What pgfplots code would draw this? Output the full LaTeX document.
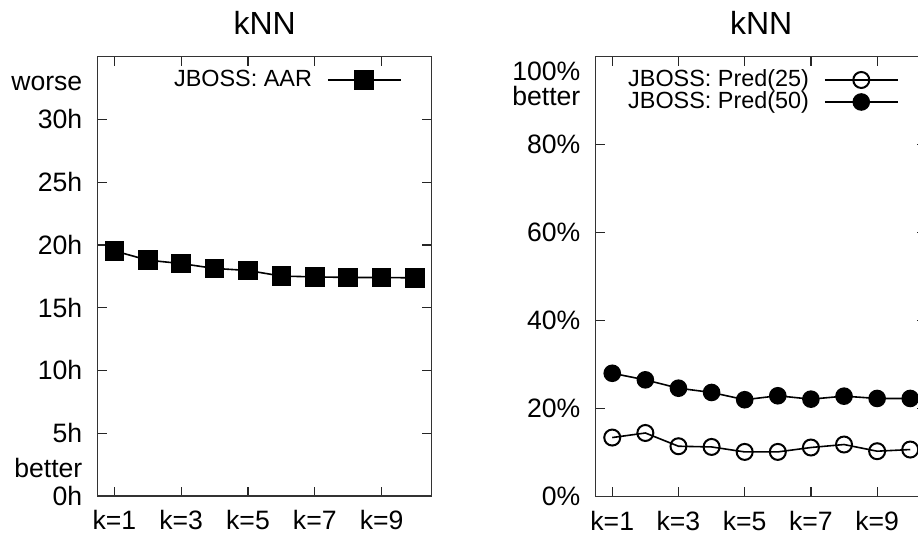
\documentclass[border=0pt]{standalone}
\usepackage{fontspec}
\setmainfont{Liberation Sans}
\usepackage{pgfplots}
\pgfplotsset{compat=1.18}

\pgfplotsset{
  knn/.style={
    scale only axis,
    xmin=0.5, xmax=10.5, ymin=0,
    xtick={1,3,5,7,9},
    xticklabels={k=1,k=3,k=5,k=7,k=9},
    tick align=inside,
    major tick length=4.7pt,
    tick style={black!85, line width=0.6pt},
    axis line style={line width=0.6pt, black!80},
    ticklabel style={font=\fontsize{13.3}{15}\selectfont},
    /pgf/number format/assume math mode=true,
    title={kNN},
    title style={font=\fontsize{16}{18}\selectfont, at={(0.5,1)}, anchor=base, yshift=5.2pt},
    xticklabel style={inner sep=0pt, anchor=north, yshift=-7pt},
    yticklabel style={inner sep=0pt, anchor=east, xshift=-7.5pt},
    extra tick style={major tick length=0pt, tick style={draw=none}},
    legend cell align=right,
    legend plot pos=right,
    legend style={draw=none, fill=none, font=\fontsize{11.7}{13}\selectfont,
      anchor=north east, inner sep=0pt, column sep=7.5pt, row sep=0pt,
      nodes={inner sep=0pt, text height=9pt, text depth=2pt}},
    legend image code/.code={\draw[mark repeat=2,mark phase=2] plot coordinates {(0pt,0pt) (18.25pt,0pt) (36.5pt,0pt)};},
  }
}

\begin{document}
\begin{tikzpicture}
\useasboundingbox (0,0) rectangle (459pt,-268pt);
\begin{pgfinterruptboundingbox}
\clip (0,0) rectangle (459pt,-268pt);

\begin{axis}[knn,
  at={(48.85pt,-248pt)}, anchor=south west,
  width=167pt, height=219.65pt,
  ymax=35,
  ytick={0,5,10,15,20,25,30},
  yticklabels={0h,5h,10h,15h,20h,25h,30h},
  extra y ticks={2.2,32.9},
  extra y tick labels={better,worse},
  legend style={at={(0.911,0.973)}},
]
\addplot[black, line width=0.8pt, mark=square*, mark size=4.5pt] coordinates {
  (1,19.53) (2,18.79) (3,18.52) (4,18.13) (5,17.97)
  (6,17.52) (7,17.46) (8,17.41) (9,17.41) (10,17.38)
};
\addlegendentry{JBOSS: AAR}
\end{axis}

\begin{axis}[knn,
  at={(297.85pt,-248.35pt)}, anchor=south west,
  width=165.55pt, height=220pt,
  ymax=100,
  ytick={0,20,40,60,80},
  yticklabels={0\%,20\%,40\%,60\%,80\%},
  extra y ticks={91,96.6},
  extra y tick labels={better,100\%},
  legend style={at={(0.916,0.973)}},
]
\addplot[black, line width=0.8pt, mark=o, mark size=4pt, mark options={line width=1pt}] coordinates {
  (1,13.44) (2,14.48) (3,11.47) (4,11.31) (5,10.18)
  (6,10.18) (7,11.18) (8,11.86) (9,10.34) (10,10.72)
};
\addlegendentry{JBOSS: Pred(25)}
\addplot[black, line width=0.8pt, mark=*, mark size=4pt] coordinates {
  (1,28.05) (2,26.56) (3,24.66) (4,23.69) (5,22.04)
  (6,22.94) (7,22.17) (8,22.85) (9,22.33) (10,22.33)
};
\addlegendentry{JBOSS: Pred(50)}
\end{axis}
\end{pgfinterruptboundingbox}
\end{tikzpicture}
\end{document}
